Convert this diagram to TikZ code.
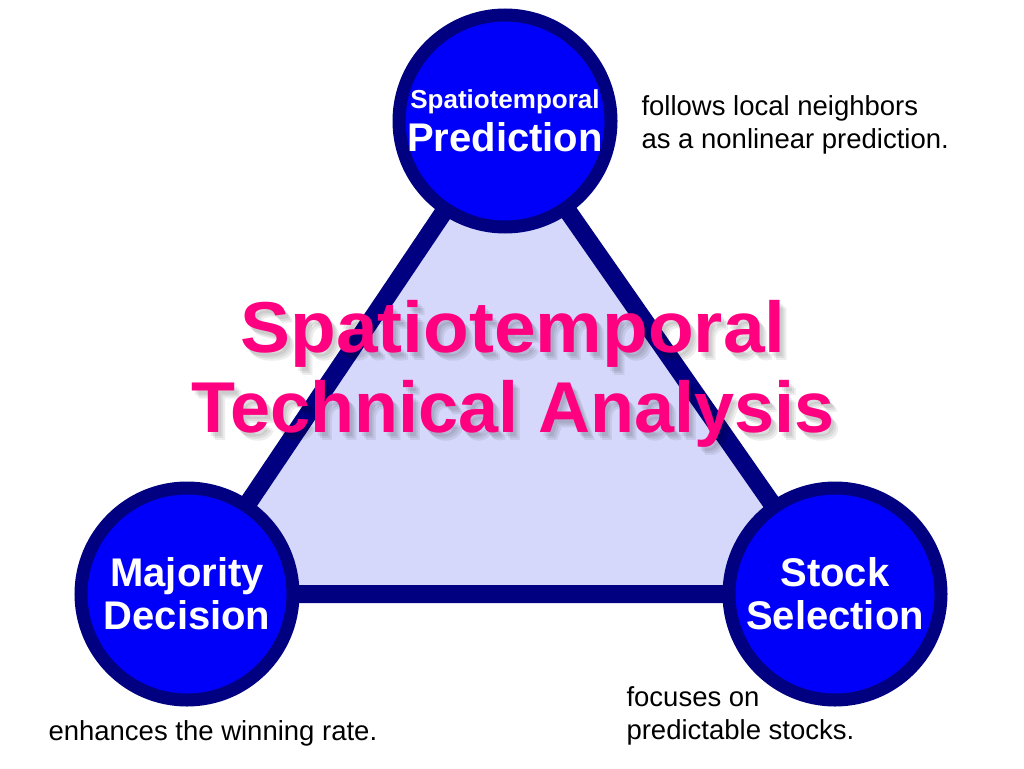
\documentclass[tikz,border=0pt]{standalone}
\usepackage{fontspec}
\setmainfont{Liberation Sans}
\definecolor{navyline}{RGB}{0,0,128}
\definecolor{hubblue}{RGB}{0,0,250}
\definecolor{trifill}{RGB}{213,216,250}
\definecolor{titlepink}{RGB}{255,0,128}

\begin{document}
\begin{tikzpicture}[x=1pt,y=-1pt,
		hub/.style={circle,draw=navyline,fill=hubblue,line width=13pt,minimum size=212pt,
			inner sep=0pt,text=white,align=center,font=\bfseries\fontsize{40}{43}\selectfont},
		note/.style={anchor=base west,align=left,font=\fontsize{27.5}{33}\selectfont},
		headline/.style={anchor=base,align=center,inner sep=0pt,font=\bfseries\fontsize{72}{80}\selectfont}
		]
		\useasboundingbox (0,0) rectangle (1024,768);
		\coordinate (cP) at (505,121);
		\coordinate (cM) at (187,594);
		\coordinate (cS) at (835,594);
		
		\draw[draw=navyline, fill=trifill, line width=18pt, line join=miter] (cP) -- (cM) -- (cS) -- cycle;
		
		% title with a soft shadow
		\foreach \dx/\dy in {3/4, 5/6, 7/8}
		\node[headline, text=black, opacity=0.07] at (513+\dx,432+\dy) {\scalebox{1.04}[1]{Spatiotemporal}\\Technical Analysis};
		\node[headline, text=titlepink](title) at (513,432) {\scalebox{1.04}[1]{Spatiotemporal}\\Technical Analysis};
		
		\node[hub](pred) at (cP) {{\fontsize{26}{30}\selectfont Spatiotemporal}\\Prediction};
		\node[hub](major) at (cM) {Majority\\Decision};
		\node[hub](stock) at (cS) {Stock\\Selection};
		
		\node[note](predtxt) at (638,148) {follows local neighbors\\as a nonlinear prediction.};
		\node[note](majortxt) at (45,740) {enhances the winning rate.};
		\node[note](stocktxt) at (623,739) {focuses on\\predictable stocks.};
	\end{tikzpicture}
\end{document}
